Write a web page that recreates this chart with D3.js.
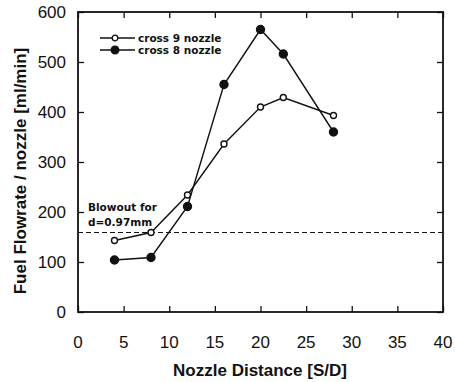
<!DOCTYPE html>
<html>
<head>
<meta charset="utf-8">
<script src="https://cdn.jsdelivr.net/npm/d3@7"></script>
<style>
  body { margin: 0; background: #fff; }
  svg text { font-family: Arial, "Liberation Sans", sans-serif; fill: #111; }
  .tick-label { font-size: 17px; }
  .axis-title { font-size: 17px; font-weight: bold; }
  .legend-text, .note-text { font-family: "DejaVu Sans", sans-serif; font-size: 10.5px; font-weight: bold; }
</style>
</head>
<body>
<svg id="chart" width="455" height="382"></svg>
<script>
const nozzleDistance = [4, 8, 12, 16, 20, 22.5, 28];
const cross9Flow = [143, 159, 234, 336, 410, 429, 393];
const cross8Flow = [104, 109, 211, 455, 565, 516, 360];
const blowoutFlow = 159;
const xTicks = [0, 5, 10, 15, 20, 25, 30, 35, 40];
const yTicks = [0, 100, 200, 300, 400, 500, 600];

const series = [
    { name: "cross 9 nozzle", values: cross9Flow, filled: false },
    { name: "cross 8 nozzle", values: cross8Flow, filled: true }
];

const svg = d3.select("#chart");
const plot = { left: 78, right: 443, top: 12, bottom: 312 };

const x = d3.scaleLinear().domain([0, 40]).range([plot.left, plot.right]);
const y = d3.scaleLinear().domain([0, 600]).range([plot.bottom, plot.top]);

// frame
svg.append("rect")
    .attr("x", plot.left).attr("y", plot.top)
    .attr("width", plot.right - plot.left)
    .attr("height", plot.bottom - plot.top)
    .attr("fill", "none")
    .attr("stroke", "#111")
    .attr("stroke-width", 1.8);

// inward ticks on all sides
const tickLen = 6;
svg.append("g").attr("transform", `translate(0,${plot.bottom})`)
    .call(d3.axisTop(x).tickValues(xTicks).tickSize(tickLen).tickFormat(""))
    .call(g => g.select(".domain").remove());
svg.append("g").attr("transform", `translate(0,${plot.top})`)
    .call(d3.axisBottom(x).tickValues(xTicks).tickSize(tickLen).tickFormat(""))
    .call(g => g.select(".domain").remove());
svg.append("g").attr("transform", `translate(${plot.left},0)`)
    .call(d3.axisRight(y).tickValues(yTicks).tickSize(tickLen).tickFormat(""))
    .call(g => g.select(".domain").remove());
svg.append("g").attr("transform", `translate(${plot.right},0)`)
    .call(d3.axisLeft(y).tickValues(yTicks).tickSize(tickLen).tickFormat(""))
    .call(g => g.select(".domain").remove());
svg.selectAll(".tick line").attr("stroke", "#111").attr("stroke-width", 1.3);

// tick labels
svg.selectAll(".x-label")
    .data(xTicks)
    .enter().append("text")
    .attr("class", "tick-label")
    .attr("x", d => x(d))
    .attr("y", 348)
    .attr("text-anchor", "middle")
    .text(d => d);

svg.selectAll(".y-label")
    .data(yTicks)
    .enter().append("text")
    .attr("class", "tick-label")
    .attr("x", 66)
    .attr("y", d => y(d) + 6)
    .attr("text-anchor", "end")
    .text(d => d);

// axis titles
svg.append("text")
    .attr("class", "axis-title")
    .attr("x", 260).attr("y", 376)
    .attr("text-anchor", "middle")
    .text("Nozzle Distance [S/D]");

svg.append("text")
    .attr("class", "axis-title")
    .attr("transform", "translate(26,171) rotate(-90)")
    .attr("text-anchor", "middle")
    .text("Fuel Flowrate / nozzle [ml/min]");

// blowout line
svg.append("line")
    .attr("x1", plot.left).attr("x2", plot.right)
    .attr("y1", y(blowoutFlow)).attr("y2", y(blowoutFlow))
    .attr("stroke", "#111")
    .attr("stroke-width", 1.2)
    .attr("stroke-dasharray", "5,3");

svg.append("text").attr("class", "note-text")
    .attr("x", 88).attr("y", 211).text("Blowout for");
svg.append("text").attr("class", "note-text")
    .attr("x", 88).attr("y", 226).text("d=0.97mm");

// series
const line = d3.line()
    .x((d, i) => x(nozzleDistance[i]))
    .y(d => y(d));

series.forEach(s => {
    svg.append("path")
        .datum(s.values)
        .attr("d", line)
        .attr("fill", "none")
        .attr("stroke", "#111")
        .attr("stroke-width", 1.4);

    svg.selectAll(null)
        .data(s.values)
        .enter().append("circle")
        .attr("cx", (d, i) => x(nozzleDistance[i]))
        .attr("cy", d => y(d))
        .attr("r", s.filled ? 4 : 3)
        .attr("fill", s.filled ? "#111" : "#fff")
        .attr("stroke", "#111")
        .attr("stroke-width", 1.4);
});

// legend
const legend = svg.append("g").attr("transform", "translate(100,38)");
series.forEach((s, i) => {
    const row = legend.append("g").attr("transform", `translate(0,${i * 12})`);
    row.append("line")
        .attr("x1", 0).attr("x2", 35)
        .attr("stroke", "#111").attr("stroke-width", 1.4);
    row.append("circle")
        .attr("cx", 15)
        .attr("r", s.filled ? 3.8 : 2.8)
        .attr("fill", s.filled ? "#111" : "#fff")
        .attr("stroke", "#111").attr("stroke-width", 1.3);
    row.append("text")
        .attr("class", "legend-text")
        .attr("x", 38).attr("y", 4)
        .text(s.name);
});
</script>
</body>
</html>
